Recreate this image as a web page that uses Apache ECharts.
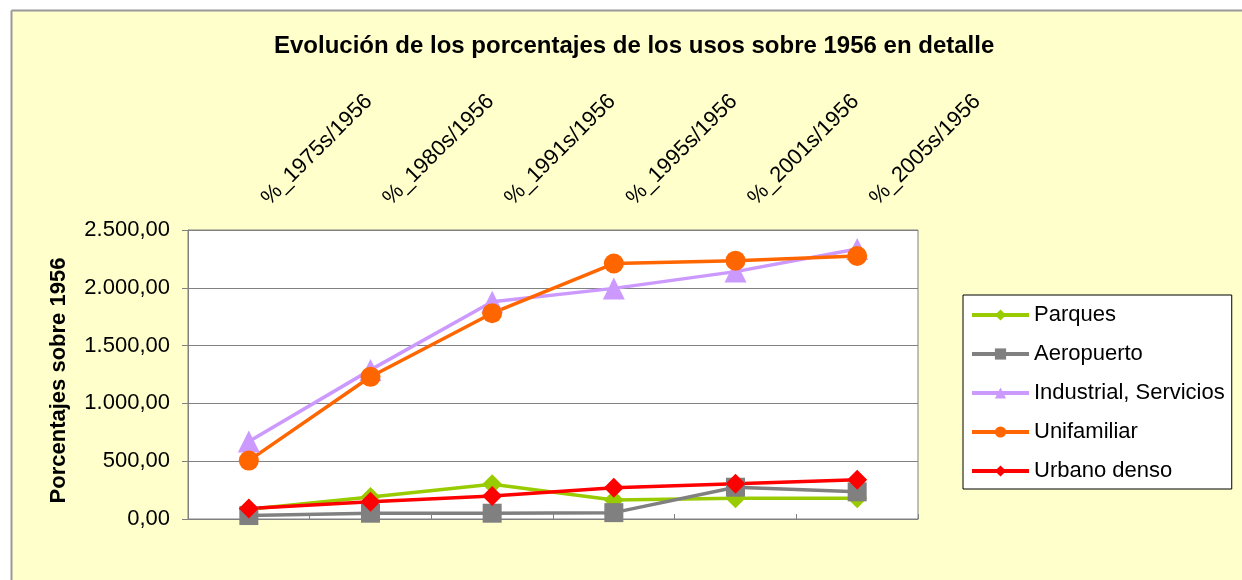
<!DOCTYPE html>
<html>
<head>
<meta charset="utf-8">
<script src="https://cdn.jsdelivr.net/npm/echarts@6/dist/echarts.min.js"></script>
<style>
  html, body { margin: 0; padding: 0; background: #ffffff; }
  #chart { width: 1242px; height: 580px; }
</style>
</head>
<body>
<div id="chart"></div>
<script>
const categories = ['%_1975s/1956', '%_1980s/1956', '%_1991s/1956', '%_1995s/1956', '%_2001s/1956', '%_2005s/1956'];
const parques = [85, 190, 300, 165, 180, 180];
const aeropuerto = [30, 50, 50, 55, 275, 235];
const industrial = [670, 1290, 1880, 1995, 2140, 2335];
const unifamiliar = [505, 1230, 1780, 2210, 2235, 2275];
const urbanoDenso = [90, 150, 200, 270, 305, 340];
const seriesNames = ['Parques', 'Aeropuerto', 'Industrial, Servicios', 'Unifamiliar', 'Urbano denso'];
const yTicks = { min: 0, max: 2500, interval: 500 };
const titleText = 'Evolución de los porcentajes de los usos sobre 1956 en detalle';
const yAxisTitle = 'Porcentajes sobre 1956';

const FONT = "'Liberation Sans', Arial, sans-serif";

function fmt(v) {
  const parts = v.toFixed(2).split('.');
  const intPart = parts[0].replace(/\B(?=(\d{3})+(?!\d))/g, '.');
  return intPart + ',' + parts[1];
}

function mkSeries(name, data, color, symbol, size) {
  return {
    name: name,
    type: 'line',
    data: data,
    symbol: symbol,
    symbolSize: size,
    lineStyle: { color: color, width: 3.5 },
    itemStyle: { color: color },
    emphasis: { disabled: true },
    animation: false
  };
}

const chart = echarts.init(document.getElementById('chart'));
chart.setOption({
  backgroundColor: '#FFFFCC',
  animation: false,
  textStyle: { fontFamily: FONT },
  graphic: [
    { type: 'rect', shape: { x: 0, y: 0, width: 1242, height: 10 }, style: { fill: '#ffffff' }, silent: true },
    { type: 'rect', shape: { x: 0, y: 0, width: 11, height: 580 }, style: { fill: '#ffffff' }, silent: true },
    { type: 'line', shape: { x1: 11.5, y1: 10.5, x2: 1242, y2: 10.5 }, style: { stroke: '#999999', lineWidth: 2 }, silent: true },
    { type: 'line', shape: { x1: 11.5, y1: 10.5, x2: 11.5, y2: 580 }, style: { stroke: '#999999', lineWidth: 2 }, silent: true }
  ],
  title: {
    text: titleText,
    left: 274,
    top: 34,
    padding: 0,
    textStyle: { fontFamily: FONT, fontSize: 24, fontWeight: 'bold', color: '#000000' }
  },
  legend: {
    orient: 'vertical',
    left: 963,
    top: 295,
    padding: [8, 7, 6, 7],
    itemGap: 15,
    itemWidth: 57,
    itemHeight: 14,
    backgroundColor: '#ffffff',
    borderColor: '#000000',
    borderWidth: 1,
    borderRadius: 0,
    data: seriesNames,
    lineStyle: { width: 4 },
    textStyle: { fontFamily: FONT, fontSize: 22, color: '#000000', lineHeight: 24, padding: [0, 0, 0, 0] }
  },
  grid: {
    left: 188,
    right: 324,
    top: 230,
    bottom: 61,
    show: true,
    backgroundColor: '#ffffff',
    borderColor: '#808080',
    borderWidth: 1
  },
  xAxis: {
    type: 'category',
    position: 'top',
    data: categories,
    boundaryGap: true,
    axisLine: { show: true, lineStyle: { color: '#808080', width: 1 } },
    axisTick: { show: true, interval: 0, length: 5, lineStyle: { color: '#808080' } },
    axisLabel: { interval: 0, rotate: 45, margin: 12, padding: [0, 0, 0, 23], fontFamily: FONT, fontSize: 22, color: '#000000' },
    splitLine: { show: false }
  },
  yAxis: {
    type: 'value',
    min: yTicks.min,
    max: yTicks.max,
    interval: yTicks.interval,
    name: yAxisTitle,
    nameLocation: 'middle',
    nameRotate: 90,
    nameGap: 118,
    nameTextStyle: { fontFamily: FONT, fontSize: 22, fontWeight: 'bold', color: '#000000', padding: [0, 12, 0, 0] },
    axisLine: { show: true, lineStyle: { color: '#808080', width: 1 } },
    axisTick: { show: true, length: 6, lineStyle: { color: '#808080' } },
    axisLabel: { margin: 18, fontFamily: FONT, fontSize: 22, color: '#000000', formatter: fmt },
    splitLine: { show: true, lineStyle: { color: '#808080', width: 1 } }
  },
  series: [
    mkSeries(seriesNames[0], parques, '#99CC00', 'diamond', 20),
    mkSeries(seriesNames[1], aeropuerto, '#808080', 'rect', 19),
    mkSeries(seriesNames[2], industrial, '#CC99FF', 'triangle', 22),
    mkSeries(seriesNames[3], unifamiliar, '#FF6600', 'circle', 20),
    mkSeries(seriesNames[4], urbanoDenso, '#FF0000', 'diamond', 20)
  ]
});
</script>
</body>
</html>
